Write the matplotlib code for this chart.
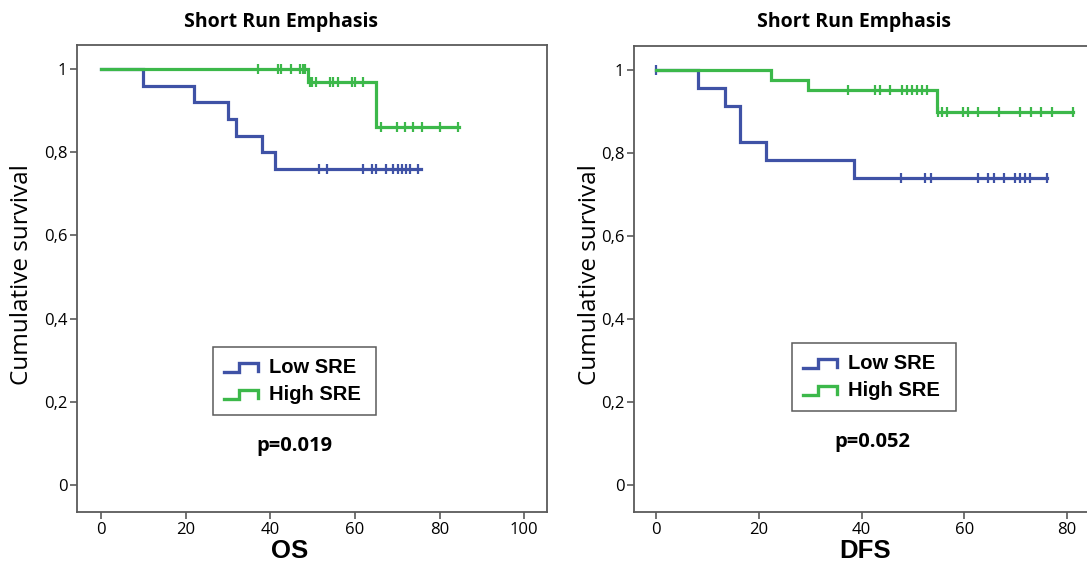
import numpy as np
import matplotlib
matplotlib.use("Agg")
import matplotlib.pyplot as plt
from matplotlib.legend_handler import HandlerBase
from matplotlib.lines import Line2D

# ---------------- data ----------------
os_low_event_t = [10, 22, 30, 32, 38, 41]
os_low_surv = [0.96, 0.92, 0.88, 0.84, 0.80, 0.76]
os_low_censor = [51.5, 53.5, 62, 64, 65, 67.4, 69, 70.2, 71.2, 72.1, 73, 74.9]
os_low_end = 75.5

os_high_event_t = [49, 65]
os_high_surv = [0.968, 0.86]
os_high_censor = [37, 41.8, 42.6, 45, 47, 47.7, 48.2, 49.3, 49.8, 50.8, 54.1, 54.8,
                  56, 59.3, 60, 62, 66.2, 70, 71.9, 73.8, 75.9, 80.1, 84.4]
os_high_end = 84.5

dfs_low_event_t = [8.2, 13.4, 16.3, 21.4, 38.5]
dfs_low_surv = [0.957, 0.913, 0.826, 0.783, 0.739]
dfs_low_censor = [0, 47.7, 52.4, 53.5, 62.6, 64.6, 65.8, 67.7, 69.8, 70.8, 71.8, 72.8, 76]
dfs_low_end = 76

dfs_high_event_t = [22.4, 29.6, 54.6]
dfs_high_surv = [0.976, 0.951, 0.899]
dfs_high_censor = [37.4, 42.6, 43.6, 45.5, 47.9, 48.8, 49.8, 50.8, 51.8, 52.7, 54.8, 55.6,
                   56.6, 59.7, 60.7, 62.6, 66.7, 70.8, 73.0, 74.9, 77.0, 81.1]
dfs_high_end = 81.2

group_labels = ["Low SRE", "High SRE"]
os_xticks = [0, 20, 40, 60, 80, 100]
dfs_xticks = [0, 20, 40, 60, 80]
yticks = [0, 0.2, 0.4, 0.6, 0.8, 1.0]
ytick_labels = ["0", "0,2", "0,4", "0,6", "0,8", "1"]
p_os = "p=0.019"
p_dfs = "p=0.052"

BLUE = "#3f52a6"
GREEN = "#3cb84a"

W, H = 1087, 569
fig = plt.figure(figsize=(W / 100, H / 100), dpi=100)

TICKFONT = ["Open Sans", "DejaVu Sans"]
NARROW = ["Liberation Sans", "DejaVu Sans"]


def px_axes(l, t, r, b):
    return fig.add_axes([l / W, 1 - b / H, (r - l) / W, (b - t) / H])


class StepHandler(HandlerBase):
    def create_artists(self, legend, orig_handle, xdescent, ydescent, width, height, fontsize, trans):
        x0, x1 = -xdescent, -xdescent + width
        y0, y1 = -ydescent + 0.1 * height, -ydescent + 0.75 * height
        xs = [x0, x0 + 0.45 * width, x0 + 0.45 * width, x1, x1]
        ys = [y0, y0, y1, y1, y0 + 0.05 * height]
        ln = Line2D(xs, ys, color=orig_handle.get_color(), lw=2.4, transform=trans,
                    solid_joinstyle="miter")
        return [ln]


def km(ax, ev_t, surv, censor, end, color, z):
    t = np.concatenate([[0], ev_t, [end]])
    s = np.concatenate([[1.0], surv, [surv[-1]]])
    line, = ax.step(t, s, where="post", color=color, lw=2.3, zorder=z, solid_joinstyle="miter")
    idx = np.searchsorted(ev_t, censor, side="right")
    levels = np.concatenate([[1.0], surv])
    cs = levels[idx]
    ax.plot(censor, cs, linestyle="none", marker="|", ms=7, mew=1.6, color=color, zorder=z + 0.5)
    return line


def style(ax, xlim, xticks):
    ax.set_xlim(*xlim)
    ax.set_ylim(-0.065, 1.058)
    ax.set_xticks(xticks)
    ax.set_xticklabels([str(v) for v in xticks], family=TICKFONT, fontsize=12)
    ax.set_yticks(yticks)
    ax.set_yticklabels(ytick_labels, family=TICKFONT, fontsize=12)
    for sp in ax.spines.values():
        sp.set_color("#5a5a5a")
        sp.set_linewidth(1.3)
    ax.tick_params(direction="out", length=5, width=1.2, color="#5a5a5a", pad=2)
    ax.set_facecolor("white")


def add_legend(ax, handles, x0, y_top, w_ax, h_ax):
    leg = ax.legend(handles, group_labels, handler_map={Line2D: StepHandler()},
                    loc="upper left", bbox_to_anchor=(x0, y_top - h_ax, w_ax, h_ax),
                    mode="expand", frameon=True, fancybox=False,
                    edgecolor="#333333", prop={"family": NARROW, "weight": "bold", "size": 14.5},
                    handlelength=1.7, handletextpad=0.55, borderpad=0.55, labelspacing=0.4,
                    borderaxespad=0)
    leg.get_frame().set_linewidth(1.1)
    return leg


# ---------- left: OS ----------
ax1 = px_axes(77, 45, 547, 512)
l1 = km(ax1, os_low_event_t, os_low_surv, os_low_censor, os_low_end, BLUE, 2)
l2 = km(ax1, os_high_event_t, os_high_surv, os_high_censor, os_high_end, GREEN, 3)
style(ax1, (-5.7, 105.4), os_xticks)
add_legend(ax1, [l1, l2], (213 - 77) / 470, (512 - 347) / 467, 163 / 470, 75 / 467)
fig.text(294 / W, 1 - 446 / H, p_os, ha="center", va="center", fontsize=14.5,
         fontweight="bold", family=TICKFONT)
fig.text(281 / W, 1 - 22 / H, "Short Run Emphasis", ha="center", va="center",
         fontsize=14, fontweight="bold", family=TICKFONT)
fig.text(290 / W, 1 - 551 / H, "OS", ha="center", va="center", fontsize=18.5,
         fontweight="bold", family=NARROW)
fig.text(22 / W, 1 - 275 / H, "Cumulative survival", ha="center", va="center",
         fontsize=17.5, rotation=90, family=TICKFONT)

# ---------- right: DFS ----------
ax2 = px_axes(634, 46, 1095, 512)
r1 = km(ax2, dfs_low_event_t, dfs_low_surv, dfs_low_censor, dfs_low_end, BLUE, 2)
r2 = km(ax2, dfs_high_event_t, dfs_high_surv, dfs_high_censor, dfs_high_end, GREEN, 3)
style(ax2, (-4.3, 85.4), dfs_xticks)
add_legend(ax2, [r1, r2], (792 - 634) / 461, (512 - 343) / 466, 164 / 461, 75 / 466)
fig.text(872 / W, 1 - 442 / H, p_dfs, ha="center", va="center", fontsize=14.5,
         fontweight="bold", family=TICKFONT)
fig.text(854 / W, 1 - 22 / H, "Short Run Emphasis", ha="center", va="center",
         fontsize=14, fontweight="bold", family=TICKFONT)
fig.text(865 / W, 1 - 551 / H, "DFS", ha="center", va="center", fontsize=18.5,
         fontweight="bold", family=NARROW)
fig.text(590 / W, 1 - 275 / H, "Cumulative survival", ha="center", va="center",
         fontsize=17.5, rotation=90, family=TICKFONT)

fig.savefig("out.png", dpi=100, facecolor="white")
